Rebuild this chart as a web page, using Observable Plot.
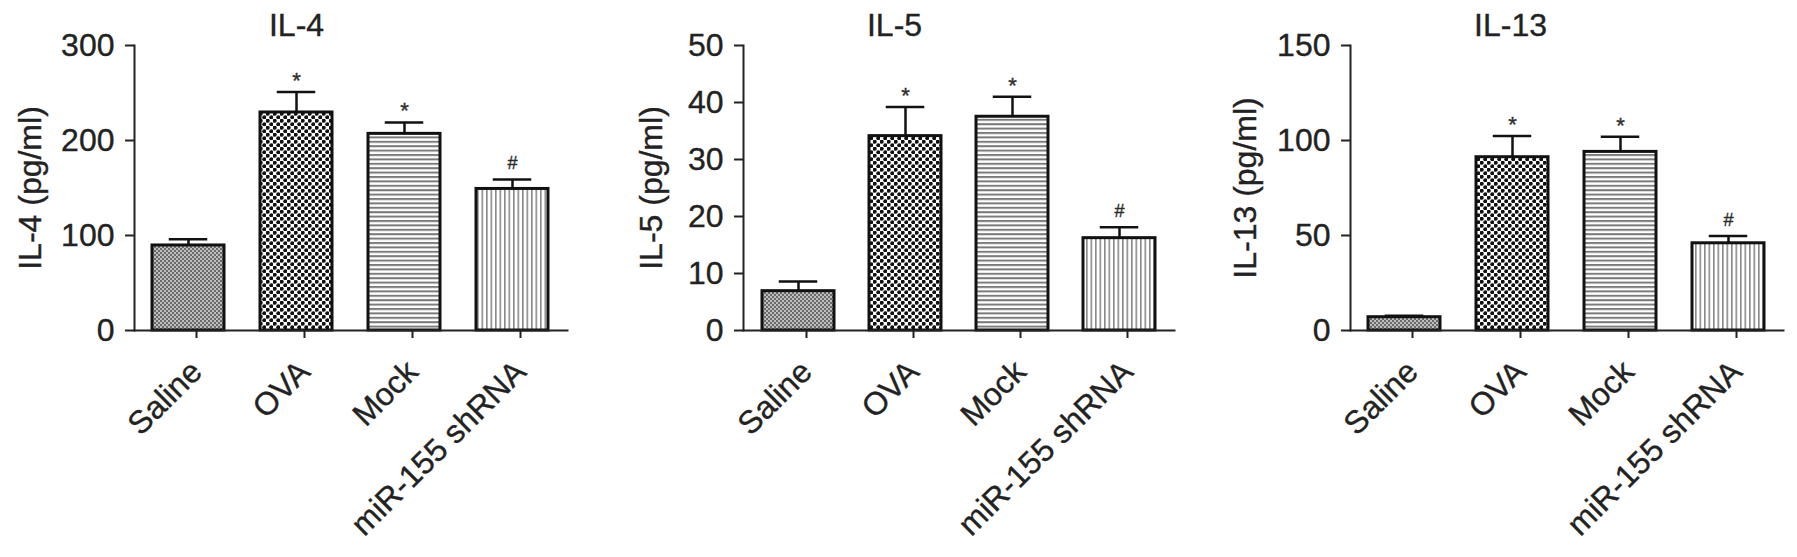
<!DOCTYPE html>
<html>
<head>
<meta charset="utf-8">
<script src="https://cdn.jsdelivr.net/npm/d3@7"></script>
<script src="https://cdn.jsdelivr.net/npm/@observablehq/plot@0.6"></script>
<style>
  html, body { margin: 0; padding: 0; background: #fff; }
  body { width: 1797px; height: 557px; overflow: hidden; font-family: "Liberation Sans", Arial, sans-serif; }
  #wrap { position: relative; width: 1797px; height: 557px; }
  .panel { position: absolute; top: 0; }
  .panel svg text { stroke: #222; stroke-width: 0.35px; }
</style>
</head>
<body>
<svg width="0" height="0" style="position:absolute">
  <defs>
    <pattern id="pSaline" patternUnits="userSpaceOnUse" width="4" height="4">
      <rect width="4" height="4" fill="#bdbdbd"/>
      <rect width="2" height="2" fill="#6a6a6a"/>
      <rect x="2" y="2" width="2" height="2" fill="#6a6a6a"/>
    </pattern>
    <pattern id="pOVA" patternUnits="userSpaceOnUse" width="7" height="7">
      <rect width="7" height="7" fill="#fff"/>
      <circle cx="1.75" cy="1.75" r="2" fill="#111"/>
      <circle cx="5.25" cy="5.25" r="2" fill="#111"/>
    </pattern>
    <pattern id="pMock" patternUnits="userSpaceOnUse" width="8" height="4.4">
      <rect width="8" height="4.4" fill="#fff"/>
      <rect width="8" height="2" fill="#7a7a7a"/>
    </pattern>
    <pattern id="pMir" patternUnits="userSpaceOnUse" width="4.5" height="8">
      <rect width="4.5" height="8" fill="#fff"/>
      <rect width="1.6" height="8" fill="#888"/>
    </pattern>
  </defs>
</svg>
<div id="wrap"></div>
<script>
// ---------- data ----------
const groups = ["Saline", "OVA", "Mock", "miR-155 shRNA"];
const sigMarks = ["", "*", "*", "#"];

const il4Mean = [89.5, 229.5, 207, 149];
const il4Err  = [6.5, 21.5, 12, 10];
const il4Ticks = [0, 100, 200, 300];

const il5Mean = [6.9, 34.1, 37.5, 16.2];
const il5Err  = [1.7, 5.1, 3.5, 1.9];
const il5Ticks = [0, 10, 20, 30, 40, 50];

const il13Mean = [7.0, 91.2, 94.0, 45.9];
const il13Err  = [0.8, 11.2, 8.0, 3.9];
const il13Ticks = [0, 50, 100, 150];

const titles = ["IL-4", "IL-5", "IL-13"];
const yLabels = ["IL-4 (pg/ml)", "IL-5 (pg/ml)", "IL-13 (pg/ml)"];

// ---------- styles / layout ----------
const patternIds = ["pSaline", "pOVA", "pMock", "pMir"];
const FONT = "'Liberation Sans', Arial, Helvetica, sans-serif";
const INK = "#222";
const LINE = "#111";
const FS = 32;

const panels = [
  {title: titles[0], ylabel: yLabels[0], mean: il4Mean, err: il4Err, ticks: il4Ticks},
  {title: titles[1], ylabel: yLabels[1], mean: il5Mean, err: il5Err, ticks: il5Ticks},
  {title: titles[2], ylabel: yLabels[2], mean: il13Mean, err: il13Err, ticks: il13Ticks}
];
const layout = [
  {left: 0,    width: 600, ml: 134, mr: 33, titleDx: -54.5, labelDx: -104},
  {left: 600,  width: 600, ml: 143, mr: 26, titleDx: -64.5, labelDx: -91.5},
  {left: 1200, width: 597, ml: 150, mr: 14, titleDx: -56.5, labelDx: -104.5}
];

const wrap = document.getElementById("wrap");

panels.forEach((p, k) => {
  const L = layout[k];
  const rows = groups.map((g, i) => ({
    group: g,
    mean: p.mean[i],
    top: p.mean[i] + p.err[i],
    sig: sigMarks[i],
    fill: `url(#${patternIds[i]})`
  }));
  const chart = Plot.plot({
    width: L.width,
    height: 557,
    marginTop: 45,
    marginBottom: 227,
    marginLeft: L.ml,
    marginRight: L.mr,
    style: {fontFamily: FONT, fontSize: FS + "px", color: INK, background: "transparent", overflow: "visible"},
    x: {domain: groups, paddingInner: 0.33, paddingOuter: 0.165, axis: null},
    y: {domain: [0, p.ticks[p.ticks.length - 1]], axis: null},
    color: {type: "identity"},
    marks: [
      Plot.barY(rows, {x: "group", y: "mean", fill: "fill", stroke: LINE, strokeWidth: 3}),
      Plot.ruleX(rows, {x: "group", y1: "mean", y2: "top", stroke: LINE, strokeWidth: 2.5}),
      Plot.tickY(rows, {x: "group", y: "top", stroke: LINE, strokeWidth: 2.5, insetLeft: 16.75, insetRight: 16.75}),
      Plot.text(rows.filter(d => d.sig === "*"), {x: "group", y: "top", text: "sig", fontSize: 22, lineAnchor: "bottom", dy: -4, fill: "#333"}),
      Plot.text(rows.filter(d => d.sig === "#"), {x: "group", y: "top", text: "sig", fontSize: 18, lineAnchor: "bottom", dy: -10, fill: "#333"}),
      Plot.frame({anchor: "left", stroke: INK, strokeWidth: 2}),
      Plot.frame({anchor: "bottom", stroke: INK, strokeWidth: 2}),
      Plot.axisY({ticks: p.ticks, tickSize: 9, tickPadding: 11, strokeWidth: 2, label: null, fontSize: FS}),
      Plot.axisX({tickSize: 8, tickPadding: 28, tickRotate: -45, textAnchor: "end", lineAnchor: "middle", dx: 8, strokeWidth: 2, label: null, fontSize: FS}),
      Plot.text([p.title], {frameAnchor: "top", textAnchor: "middle", dx: L.titleDx, dy: -9.5, lineAnchor: "bottom", text: d => d, fontSize: FS, fill: INK}),
      Plot.text([p.ylabel], {frameAnchor: "left", rotate: -90, textAnchor: "middle", dx: L.labelDx, lineAnchor: "middle", text: d => d, fontSize: FS, fill: INK})
    ]
  });
  const holder = document.createElement("div");
  holder.className = "panel";
  holder.style.left = L.left + "px";
  holder.appendChild(chart);
  wrap.appendChild(holder);
});
</script>
</body>
</html>
